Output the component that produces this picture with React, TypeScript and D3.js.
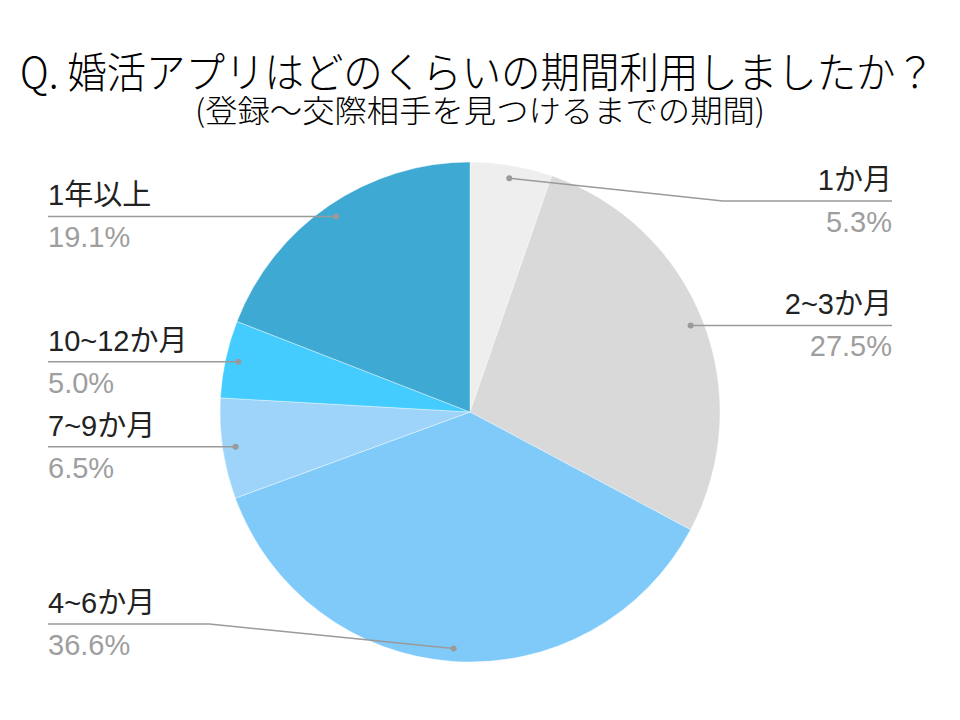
import React from "react";
import * as d3 from "d3";

const categories = ["1か月", "2~3か月", "4~6か月", "7~9か月", "10~12か月", "1年以上"];
const values = [5.3, 27.5, 36.6, 6.5, 5.0, 19.1];
const colors = ["#eeeeee", "#d9d9d9", "#80cafa", "#9ed4f9", "#44ccff", "#3ea9d2"];
const titleText = "Q. 婚活アプリはどのくらいの期間利用しましたか？";
const subtitleText = "(登録〜交際相手を見つけるまでの期間)";

const W = 960;
const H = 720;
const cx = 470;
const cy = 412;
const R = 250;
const dotR = 237;
const leftX = 48;
const rightX = 892;
const topLimit = 201;
const bottomLimit = 624;

export default function App() {
  const pie = d3.pie<number>().sort(null).value((d) => d);
  const arcs = pie(values);
  const arcGen = d3.arc<d3.PieArcDatum<number>>().innerRadius(0).outerRadius(R);
  const font = "'Liberation Sans', Arial, 'Noto Sans CJK JP', sans-serif";

  return (
    <svg width={W} height={H} style={{ position: "absolute", left: 0, top: 0, background: "#fff" }}>
      <rect width={W} height={H} fill="#fff" />
      <text x={20} y={88} fontFamily="'Noto Sans CJK JP', sans-serif" fontWeight={300} fontSize={42} fill="#000"
        textLength={915} lengthAdjust="spacingAndGlyphs">{titleText}</text>
      <text x={195} y={122} fontFamily="'Noto Sans CJK JP', sans-serif" fontWeight={300} fontSize={31} fill="#000"
        textLength={570} lengthAdjust="spacingAndGlyphs">{subtitleText}</text>
      <g transform={`translate(${cx},${cy})`}>
        {arcs.map((a, i) => (
          <path key={i} d={arcGen(a) || ""} fill={colors[i]} stroke="#fff" strokeWidth={0.4} />
        ))}
      </g>
      {arcs.map((a, i) => {
        const mid = (a.startAngle + a.endAngle) / 2;
        const dx = cx + dotR * Math.sin(mid);
        const dy = cy - dotR * Math.cos(mid);
        const right = Math.sin(mid) > 0;
        let ly = dy;
        if (right) ly = Math.max(ly, topLimit);
        else ly = Math.min(ly, bottomLimit);
        const endX = right ? rightX : leftX;
        const bendX = Math.abs(ly - dy) < 0.5 ? dx : right ? dx + (ly - dy) * 9.4 : dx - (dy - ly) * 10;
        const pts: [number, number][] = [[dx, dy], [bendX, ly], [endX, ly]];
        const line = d3.line()(pts) || "";
        return (
          <g key={i}>
            <path d={line} fill="none" stroke="#9a9a9a" strokeWidth={1.5} />
            <circle cx={dx} cy={dy} r={3} fill="#9a9a9a" />
            <text x={endX} y={ly - 11} textAnchor={right ? "end" : "start"} fontFamily={font}
              fontSize={29} fill="#222">{categories[i]}</text>
            <text x={endX} y={ly + 31} textAnchor={right ? "end" : "start"} fontFamily={font}
              fontSize={29} fill="#9e9e9e">{values[i].toFixed(1)}%</text>
          </g>
        );
      })}
    </svg>
  );
}
